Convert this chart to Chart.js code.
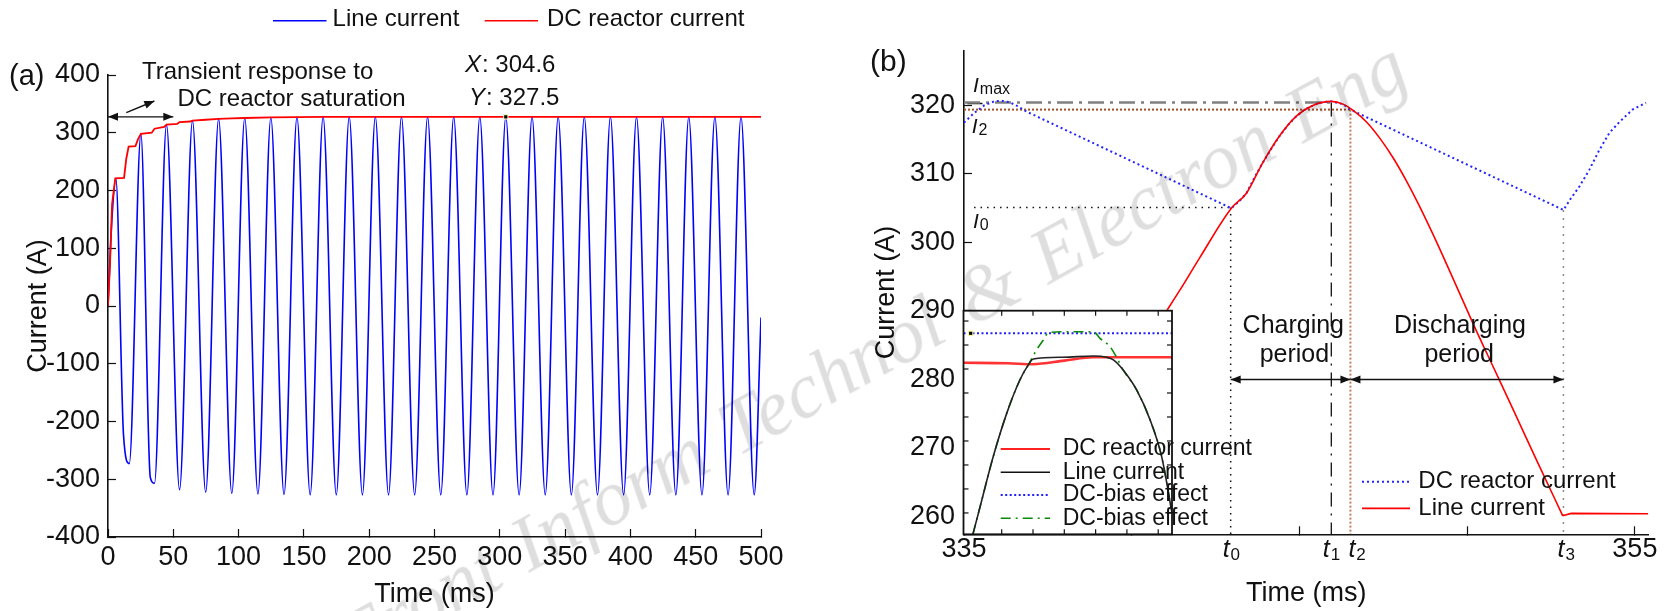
<!DOCTYPE html>
<html>
<head>
<meta charset="utf-8">
<title>Line current and DC reactor current</title>
<script src="https://cdn.jsdelivr.net/npm/chart.js@4.4.1/dist/chart.umd.min.js"></script>
<style>
    html, body { margin: 0; padding: 0; background: #fff; }
    body { width: 1671px; height: 611px; position: relative; overflow: hidden; }
    canvas { position: absolute; }
    #chartA { left: 0; top: 0; }
    #chartB { left: 820px; top: 0; }
    #inset { left: 940px; top: 300px; }
    #wm {
        position: absolute; left: 533px; top: 505px;
        font: italic 78px "Liberation Serif", "DejaVu Serif", serif;
        line-height: 1; white-space: nowrap; word-spacing: 6px; color: rgba(0, 0, 0, 0.13);
        transform-origin: 0 65px; transform: rotate(-29deg) translateX(-205px);
        pointer-events: none;
    }
</style>
</head>
<body>
<canvas id="chartA" width="820" height="611"></canvas>
<canvas id="chartB" width="851" height="611"></canvas>
<canvas id="inset" width="360" height="245"></canvas>
<div id="wm">Front Inform Technol &amp; Electron Eng</div>
<script>
const FONT = '"Liberation Sans", Arial, Helvetica, sans-serif';

// ---------- (a) 0-500 ms ----------
const timeTicksA = [0, 50, 100, 150, 200, 250, 300, 350, 400, 450, 500];
const currentTicksA = [-400, -300, -200, -100, 0, 100, 200, 300, 400];
// line current: crests and troughs of the 50 Hz wave (plus kinks of the first cycles)
const lineTimeA = [0, 3, 6, 11.9, 16.3, 25.2, 32.4, 35.6, 44.8, 54.8, 64.7, 74.8, 84.7, 94.8,
    104.7, 114.8, 124.7, 134.8, 144.7, 154.8, 164.7, 174.8, 184.7, 194.8, 204.7, 214.8, 224.7,
    234.8, 244.7, 254.8, 264.7, 274.8, 284.7, 294.8, 304.6, 314.8, 324.7, 334.8, 344.7, 354.8,
    364.7, 374.8, 384.7, 394.8, 404.7, 414.8, 424.7, 434.8, 444.7, 454.8, 464.7, 474.8, 484.7,
    494.8, 500];
const lineCurrentA = [0, 150, 221, -224, -273, 298, -297, -307, 314, -318, 321, -322.5, 324, -324.5,
    325.5, -325.5, 326.5, -326.5, 327, -327, 327.5, -327, 327.5, -327, 327.5, -327, 327.5,
    -327, 327.5, -327, 327.5, -327, 327.5, -327, 327.5, -327, 327.5, -327, 327.5, -327,
    327.5, -327, 327.5, -327, 327.5, -327, 327.5, -327, 327.5, -327, 327.5, -327, 327.5,
    -327, -20];
const dcTimeA = [0, 1.5, 3.1, 5.6, 12.3, 14, 15.8, 21, 23, 25.2, 33.5, 35.6, 43, 44.8, 53, 54.8,
    63, 64.7, 74.8, 84.7, 94.8, 104.7, 124.7, 144.7, 164.7, 500];
const dcCurrentA = [0, 70, 176, 221, 222, 255, 276, 277, 289, 298, 300, 307, 310, 314, 315.5, 318.5,
    319.5, 321, 322.5, 324, 324.8, 325.5, 326.5, 327, 327.5, 327.5];
const tipPoint = [304.6, 327.5];

// ---------- (b) zoom 335-355 ms ----------
const timeTicksB = [335, 340, 345, 350, 355];
const currentTicksB = [260, 270, 280, 290, 300, 310, 320];
const lineTimeB = [341.05, 341.43, 342.03, 342.97, 343.42, 343.9, 344.4, 344.9, 345.4, 345.95, 346.3,
    346.6, 347.0, 347.4, 347.8, 348.2, 348.6, 349.0, 349.4, 350.2, 350.8, 351.4, 352.1, 352.85,
    353.1, 355.4];
const lineCurrentB = [290.1, 293.0, 297.8, 305.0, 307.2, 311.6, 315.5, 318.4, 320.0, 320.6, 320.2,
    319.3, 317.6, 315.2, 312.3, 308.9, 305.1, 301.0, 296.7, 287.9, 281.6, 275.3, 267.9, 260.1,
    260.45, 260.4];
const lineBottomB = 352.85;
const reactorTimeB = [335, 335.3, 335.6, 335.9, 336.1, 336.35, 336.6, 336.87, 342.97, 343.2, 343.42,
    343.65, 343.9, 344.15, 344.4, 344.65, 344.9, 345.15, 345.4, 345.6, 345.95, 346.3, 346.52,
    352.87, 353.1, 353.35, 353.64, 353.94, 354.24, 354.54, 354.93, 355.33];
const reactorCurrentB = [317.5, 318.9, 320.0, 320.6, 320.7, 320.5, 319.9, 319.1, 305.0, 306.0, 307.2,
    309.4, 311.6, 313.6, 315.5, 317.1, 318.4, 319.4, 320.0, 320.4, 320.6, 320.2, 319.4,
    304.75, 306.5, 308.2, 310.6, 313.5, 316.0, 317.6, 319.4, 320.4];
const markTimesB = [342.95, 345.95, 346.52, 352.87];   // t0, t1, t2, t3
const levelI0 = 305.1, levelI2 = 319.4, levelImax = 320.45, levelT3 = 304.75;
const yMinB = 257.4, yMaxB = 328;

// ---------- inset (arbitrary units) ----------
const insetTicksX = [0, 1, 2, 3, 4, 5];
const insetTicksY = [0, 1, 2, 3, 4, 5, 6, 7, 8];
const insetReactorX = [-1.22, 0.2, 1.0, 2.0, 2.93, 5.44];
const insetReactorY = [6.26, 6.24, 6.2, 6.35, 6.49, 6.49];
const insetLineX = [-0.92, -0.69, -0.27, 0.16, 0.58, 0.85, 1.01, 1.97, 2.93, 3.35, 3.57, 3.88, 4.31, 4.74, 5.11, 5.44];
const insetLineY = [-0.89, 0.26, 2.35, 4.15, 5.54, 6.17, 6.42, 6.49, 6.54, 6.49, 6.38, 5.96, 5.13, 3.88, 2.35, 0.0];
const insetBiasX = [-0.92, -0.69, -0.27, 0.16, 0.58, 0.85, 1.11, 1.33, 1.49, 1.9, 2.93, 3.14, 3.46, 3.66, 3.88, 4.31, 4.74, 5.11, 5.44];
const insetBiasY = [-0.89, 0.26, 2.35, 4.15, 5.54, 6.17, 6.79, 7.21, 7.51, 7.55, 7.55, 7.28, 6.93, 6.51, 5.96, 5.13, 3.88, 2.35, 0.0];
const insetDcX = [-1.22, 5.44];
const insetDcY = [7.49, 7.49];
const insetMarker = [-0.99, 7.49];

// Helpers
function pairs(xs, ys) {
    return xs.map((x, i) => ({ x: x, y: ys[i] }));
}

function font(size, italic) {
    return (italic ? 'italic ' : '') + size + 'px ' + FONT;
}

function text(ctx, str, x, y, size, align) {
    ctx.save();
    ctx.font = font(size, false);
    ctx.fillStyle = '#111';
    ctx.textAlign = align || 'left';
    ctx.textBaseline = 'middle';
    ctx.fillText(str, x, y);
    ctx.restore();
}

// italic symbol followed by a smaller upright suffix (subscript or plain)
function symbol(ctx, main, rest, x, y, size, restSize, drop) {
    ctx.save();
    ctx.fillStyle = '#111';
    ctx.textAlign = 'left';
    ctx.textBaseline = 'middle';
    ctx.font = font(size, true);
    ctx.fillText(main, x, y);
    const w = ctx.measureText(main).width;
    ctx.font = font(restSize, false);
    ctx.fillText(rest, x + w + 1, y + drop);
    ctx.restore();
}

function line(ctx, x1, y1, x2, y2, color, width, dash) {
    ctx.save();
    ctx.strokeStyle = color;
    ctx.lineWidth = width;
    ctx.setLineDash(dash || []);
    ctx.beginPath();
    ctx.moveTo(x1, y1);
    ctx.lineTo(x2, y2);
    ctx.stroke();
    ctx.restore();
}

function head(ctx, fx, fy, tx, ty) {
    const a = Math.atan2(ty - fy, tx - fx);
    const len = 10, half = 4;
    ctx.beginPath();
    ctx.moveTo(tx, ty);
    ctx.lineTo(tx - len * Math.cos(a) + half * Math.sin(a), ty - len * Math.sin(a) - half * Math.cos(a));
    ctx.lineTo(tx - len * Math.cos(a) - half * Math.sin(a), ty - len * Math.sin(a) + half * Math.cos(a));
    ctx.closePath();
    ctx.fill();
}

function arrow(ctx, x1, y1, x2, y2, both) {
    ctx.save();
    ctx.strokeStyle = '#111';
    ctx.fillStyle = '#111';
    ctx.lineWidth = 1.4;
    ctx.beginPath();
    ctx.moveTo(x1, y1);
    ctx.lineTo(x2, y2);
    ctx.stroke();
    head(ctx, x1, y1, x2, y2);
    if (both) head(ctx, x2, y2, x1, y1);
    ctx.restore();
}

function axis(o) {
    return {
        type: 'linear',
        min: o.min,
        max: o.max,
        afterBuildTicks: s => { s.ticks = o.ticks.map(v => ({ value: v })); },
        afterFit: s => {
            if (o.width) s.width = o.width;
            if (o.height) s.height = o.height;
        },
        grid: { display: true, drawOnChartArea: false, drawTicks: true, tickLength: -8, tickColor: '#111', tickWidth: 1.2 },
        border: { display: true, color: '#111', width: 1.6 },
        ticks: {
            color: '#111', font: { family: FONT, size: 27 }, padding: o.pad,
            autoSkip: false, maxRotation: 0, minRotation: 0,
            callback: o.label || (v => String(v))
        },
        title: { display: true, text: o.title, color: '#111', font: { family: FONT, size: 27 }, padding: o.titlePad }
    };
}

const baseOptions = {
    responsive: false,
    animation: false,
    events: [],
    elements: { point: { radius: 0 }, line: { fill: false } },
    plugins: { legend: { display: false }, tooltip: { enabled: false } }
};

// ---------- panel (a) ----------
const panelA = {
    id: 'panelA',
    afterDraw(chart) {
        const { ctx, scales: { x, y } } = chart;

        // legend above the panel
        line(ctx, 273, 20.7, 326.5, 20.7, '#0000ff', 1.6);
        text(ctx, 'Line current', 332.6, 19.5, 24);
        line(ctx, 484.7, 20.7, 538, 20.7, '#ff0000', 1.6);
        text(ctx, 'DC reactor current', 547, 19.5, 24);

        text(ctx, '(a)', 9, 77, 29);
        text(ctx, 'Transient response to', 142, 72, 24);
        text(ctx, 'DC reactor saturation', 177.5, 99, 24);
        symbol(ctx, 'X', ': ' + tipPoint[0].toFixed(1), 465, 65, 24, 24, 0);
        symbol(ctx, 'Y', ': ' + tipPoint[1].toFixed(1), 469, 98, 24, 24, 0);

        // transient arrows
        arrow(ctx, x.getPixelForValue(0), y.getPixelForValue(327.5),
            x.getPixelForValue(50), y.getPixelForValue(327.5), true);
        arrow(ctx, x.getPixelForValue(14), y.getPixelForValue(335),
            x.getPixelForValue(35.5), y.getPixelForValue(355), false);
    }
};

new Chart(document.getElementById('chartA'), {
    type: 'line',
    data: {
        datasets: [
            {
                label: 'tip', data: [{ x: tipPoint[0], y: tipPoint[1] }], showLine: false,
                pointStyle: 'rect', pointRadius: 3, backgroundColor: '#000', borderColor: '#ffffc0', borderWidth: 1
            },
            {
                label: 'DC reactor current', data: pairs(dcTimeA, dcCurrentA),
                borderColor: '#ff0000', borderWidth: 1.8, tension: 0
            },
            {
                label: 'Line current', data: pairs(lineTimeA, lineCurrentA),
                borderColor: '#0000ff', borderWidth: 1.6, cubicInterpolationMode: 'monotone'
            }
        ]
    },
    options: Object.assign({}, baseOptions, {
        layout: { padding: { left: 0, top: 75, right: 59, bottom: 0 } },
        scales: {
            x: axis({ min: 0, max: 500, ticks: timeTicksA, height: 74, pad: 12.3, title: 'Time (ms)', titlePad: { top: 0, bottom: 0 } }),
            y: axis({ min: -400, max: 400, ticks: currentTicksA, width: 108, pad: 16, title: 'Current (A)', titlePad: { top: 22, bottom: 0 } })
        }
    }),
    plugins: [panelA]
});

// ---------- panel (b) ----------
const panelB = {
    id: 'panelB',
    afterDraw(chart) {
        const { ctx, scales: { x, y } } = chart;

        text(ctx, '(b)', 50, 62.7, 30);
        symbol(ctx, 'I', 'max', 153, 86, 21, 16, 4);
        symbol(ctx, 'I', '2', 151.7, 127, 21, 16, 4);
        symbol(ctx, 'I', '0', 153, 222, 21, 16, 4);

        // t0..t3 under the axis
        const shift = [-8, -8.5, -2, -6];
        markTimesB.forEach((t, i) => {
            symbol(ctx, 't', String(i), x.getPixelForValue(t) + shift[i], 550, 25, 17, 5);
        });

        text(ctx, 'Charging', 473.3, 326.5, 25, 'center');
        text(ctx, 'period', 474.4, 355, 25, 'center');
        text(ctx, 'Discharging', 640, 326.5, 25, 'center');
        text(ctx, 'period', 639.2, 355, 25, 'center');

        const ya = y.getPixelForValue(280);
        arrow(ctx, x.getPixelForValue(markTimesB[0]), ya, x.getPixelForValue(markTimesB[2]), ya, true);
        arrow(ctx, x.getPixelForValue(markTimesB[2]), ya, x.getPixelForValue(markTimesB[3]), ya, true);

        // legend, lower right
        line(ctx, 542, 481.7, 590, 481.7, '#2424ff', 2, [2, 3]);
        text(ctx, 'DC reactor current', 598.3, 481.7, 24);
        line(ctx, 542, 508.3, 590, 508.3, '#ff0000', 1.8);
        text(ctx, 'Line current', 598.3, 508.3, 24);
    }
};

const split = lineTimeB.indexOf(lineBottomB);
const t0 = markTimesB[0], t1 = markTimesB[1], t2 = markTimesB[2], t3 = markTimesB[3];

new Chart(document.getElementById('chartB'), {
    type: 'line',
    data: {
        datasets: [
            {
                label: 'Line current', data: pairs(lineTimeB.slice(0, split + 1), lineCurrentB.slice(0, split + 1)),
                borderColor: '#ff0000', borderWidth: 1.6, cubicInterpolationMode: 'monotone'
            },
            {
                label: 'Line current (tail)', data: pairs(lineTimeB.slice(split), lineCurrentB.slice(split)),
                borderColor: '#ff0000', borderWidth: 1.6, tension: 0
            },
            {
                label: 'DC reactor current', data: pairs(reactorTimeB, reactorCurrentB),
                borderColor: '#2424ff', borderWidth: 2, borderDash: [2, 3], tension: 0
            },
            {
                label: 'Imax', data: [{ x: 335, y: levelImax }, { x: t1, y: levelImax }],
                borderColor: '#808080', borderWidth: 2.5, borderDash: [16, 6, 3, 6]
            },
            {
                label: 'Imax mark', data: [{ x: 335.1, y: 320.3 }, { x: 335.55, y: 320.3 }],
                borderColor: '#111', borderWidth: 1.5
            },
            {
                label: 'I2', data: [{ x: 335, y: levelI2 }, { x: t2, y: levelI2 }],
                borderColor: '#a0522d', borderWidth: 2, borderDash: [2, 2]
            },
            {
                label: 'I0', data: [{ x: 335.3, y: levelI0 }, { x: t0, y: levelI0 }],
                borderColor: '#111', borderWidth: 1.5, borderDash: [1.5, 5]
            },
            {
                label: 't0', data: [{ x: t0, y: levelI0 }, { x: t0, y: yMinB }],
                borderColor: '#111', borderWidth: 1.5, borderDash: [1.5, 5]
            },
            {
                label: 't1', data: [{ x: t1, y: levelImax }, { x: t1, y: yMinB }],
                borderColor: '#111', borderWidth: 1.3, borderDash: [14, 7, 2, 7]
            },
            {
                label: 't2', data: [{ x: t2, y: levelI2 }, { x: t2, y: yMinB }],
                borderColor: '#c0805a', borderWidth: 2, borderDash: [2, 2]
            },
            {
                label: 't3', data: [{ x: t3, y: levelT3 }, { x: t3, y: yMinB }],
                borderColor: '#8c8c8c', borderWidth: 1.5, borderDash: [2, 6]
            }
        ]
    },
    options: Object.assign({}, baseOptions, {
        layout: { padding: { left: 0, top: 50.7, right: 22.7, bottom: 0 } },
        scales: {
            x: axis({
                min: 335, max: 355.4, ticks: timeTicksB, height: 76.7, pad: 7.5,
                label: v => (v === 335 || v === 355) ? String(v) : '',
                title: 'Time (ms)', titlePad: { top: 0, bottom: 1.5 }
            }),
            y: axis({ min: yMinB, max: yMaxB, ticks: currentTicksB, width: 144, pad: 17, title: 'Current (A)', titlePad: { top: 50, bottom: 0 } })
        }
    }),
    plugins: [panelB]
});

// ---------- inset ----------
const insetBox = {
    id: 'insetBox',
    beforeDraw(chart) {
        const { ctx, chartArea: a } = chart;
        ctx.save();
        ctx.fillStyle = '#fff';
        ctx.fillRect(a.left, a.top, a.right - a.left, a.bottom - a.top);
        ctx.restore();
    },
    afterDraw(chart) {
        const { ctx, chartArea: a, scales: { x, y } } = chart;
        ctx.save();
        ctx.strokeStyle = '#111';
        ctx.lineWidth = 1.8;
        ctx.strokeRect(a.left, a.top, a.right - a.left, a.bottom - a.top);
        ctx.restore();
        insetTicksX.forEach(v => {
            const px = x.getPixelForValue(v);
            line(ctx, px, a.bottom, px, a.bottom - 5, '#111', 1.2);
            line(ctx, px, a.top, px, a.top + 5, '#111', 1.2);
        });
        insetTicksY.forEach(v => {
            const py = y.getPixelForValue(v);
            line(ctx, a.left, py, a.left + 5, py, '#111', 1.2);
            line(ctx, a.right, py, a.right - 5, py, '#111', 1.2);
        });

        const rows = [149, 172.3, 195, 218.3];
        line(ctx, 60.7, rows[0], 110, rows[0], '#ff2020', 2.2);
        line(ctx, 60.7, rows[1], 110, rows[1], '#111', 1.6);
        line(ctx, 60.7, rows[2], 110, rows[2], '#1f1fff', 2, [2, 2.5]);
        line(ctx, 60.7, rows[3], 110, rows[3], '#0a8a0a', 1.6, [10, 5, 2, 5]);
        text(ctx, 'DC reactor current', 122.7, rows[0], 23);
        text(ctx, 'Line current', 122.7, rows[1], 23);
        text(ctx, 'DC-bias effect', 122.7, rows[2], 23);
        text(ctx, 'DC-bias effect', 122.7, rows[3], 23);
    }
};

new Chart(document.getElementById('inset'), {
    type: 'line',
    data: {
        datasets: [
            {
                label: 'marker', data: [{ x: insetMarker[0], y: insetMarker[1] }], showLine: false,
                pointStyle: 'rect', pointRadius: 3, backgroundColor: '#000', borderColor: '#ffff99', borderWidth: 1
            },
            {
                label: 'Line current', data: pairs(insetLineX, insetLineY),
                borderColor: '#222', borderWidth: 1.6, cubicInterpolationMode: 'monotone'
            },
            {
                label: 'DC-bias effect (dash-dot)', data: pairs(insetBiasX, insetBiasY),
                borderColor: '#0a8a0a', borderWidth: 1.6, borderDash: [10, 5, 2, 5], cubicInterpolationMode: 'monotone'
            },
            {
                label: 'DC-bias effect (dotted)', data: pairs(insetDcX, insetDcY),
                borderColor: '#1f1fff', borderWidth: 2, borderDash: [2, 2.5]
            },
            {
                label: 'DC reactor current', data: pairs(insetReactorX, insetReactorY),
                borderColor: 'rgba(255, 0, 0, 0.8)', borderWidth: 2.6, cubicInterpolationMode: 'monotone'
            }
        ]
    },
    options: Object.assign({}, baseOptions, {
        layout: { padding: { left: 23.5, top: 10.7, right: 128, bottom: 10.7 } },
        scales: {
            x: { type: 'linear', display: false, min: -1.22, max: 5.44 },
            y: { type: 'linear', display: false, min: -0.89, max: 8.43 }
        }
    }),
    plugins: [insetBox]
});
</script>
</body>
</html>
